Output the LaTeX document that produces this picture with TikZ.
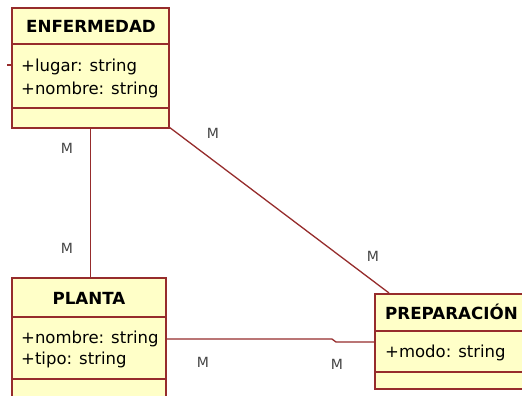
\documentclass[tikz,border=0pt]{standalone}
\usepackage{fontspec}
\setmainfont{DejaVu Sans}
\definecolor{umlborder}{RGB}{150,44,44}
\definecolor{umlfill}{RGB}{255,255,200}
\definecolor{lblgray}{RGB}{70,70,70}
\tikzset{
  umlbox/.style={draw=umlborder, fill=umlfill, line width=1.8pt, inner sep=0pt, anchor=north west},
  divider/.style={draw=umlborder, line width=1.8pt},
  conn/.style={draw=umlborder, line width=1.3pt},
  titletext/.style={font=\fontsize{16.7}{19}\selectfont\bfseries, inner sep=0pt, text=black},
  attrtext/.style={font=\fontsize{16.5}{19}\selectfont, inner sep=0pt, anchor=west, text=black},
  mult/.style={font=\fontsize{14}{16}\selectfont, text=lblgray, inner sep=0pt}
}
\begin{document}
\begin{tikzpicture}[x=1pt,y=-1pt]
\clip (0,0) rectangle (522,396);
\fill[white] (0,0) rectangle (522,396);

% ENFERMEDAD
\node[umlbox, minimum width=157pt, minimum height=120pt] (enf) at (11,7) {};
\draw[divider] (11,44) -- (168,44);
\draw[divider] (11,108) -- (168,108);
\node[titletext] (enft) at (91,26) {ENFERMEDAD};
\node[attrtext] (enfa1) at (21,67) {+lugar: string};
\node[attrtext] (enfa2) at (21,90) {+nombre: string};
\coordinate (tickL) at (7,65);
\draw[conn] (tickL) -- (enf.west |- tickL);

% PLANTA
\node[umlbox, minimum width=154pt, minimum height=125pt] (pla) at (11,277) {};
\draw[divider] (11,317) -- (165,317);
\draw[divider] (11,379) -- (165,379);
\node[titletext] (plat) at (89,298) {PLANTA};
\node[attrtext] (plaa1) at (21,339) {+nombre: string};
\node[attrtext] (plaa2) at (21,360) {+tipo: string};

% PREPARACION
\node[umlbox, minimum width=170pt, minimum height=95pt] (pre) at (374,293) {};
\draw[divider] (374,331) -- (544,331);
\draw[divider] (374,372) -- (544,372);
\node[titletext, anchor=west] (pret) at (385,312) {PREPARACIÓN};
\node[attrtext] (prea1) at (385,353) {+modo: string};

% connectors
\draw[conn] (enf.south) -- (enf.south |- pla.north);
\coordinate (diagA) at (169,127);
\coordinate (diagB) at (389,293);
\draw[conn] (diagA) -- (diagB);
\coordinate (h1) at (332,339);
\coordinate (h2) at (336,342);
\draw[conn] (pla.east |- h1) -- (h1) -- (h2) -- (pre.west |- h2);

% multiplicities
\node[mult] (m1) at (213,133) {M};
\node[mult] (m2) at (67,148) {M};
\node[mult] (m3) at (67,248) {M};
\node[mult] (m4) at (373,256) {M};
\node[mult] (m5) at (203,362) {M};
\node[mult] (m6) at (337,364) {M};
\end{tikzpicture}
\end{document}
